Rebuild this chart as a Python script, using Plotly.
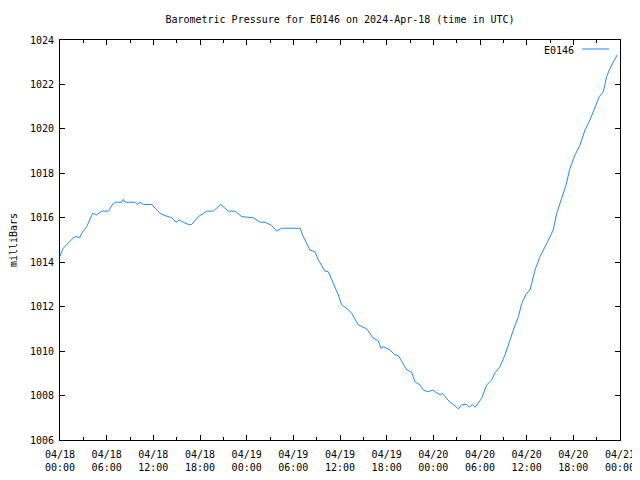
import plotly.graph_objects as go

times = [
    "2024-04-18 00:00", "2024-04-18 00:25", "2024-04-18 01:30", "2024-04-18 01:56", "2024-04-18 02:34",
    "2024-04-18 02:47", "2024-04-18 03:26", "2024-04-18 04:12", "2024-04-18 04:43", "2024-04-18 05:22",
    "2024-04-18 06:13", "2024-04-18 06:51", "2024-04-18 07:17", "2024-04-18 07:56", "2024-04-18 08:08",
    "2024-04-18 08:22", "2024-04-18 09:38", "2024-04-18 09:56", "2024-04-18 10:17", "2024-04-18 10:43",
    "2024-04-18 11:47", "2024-04-18 12:52", "2024-04-18 13:30", "2024-04-18 14:22", "2024-04-18 14:55",
    "2024-04-18 15:20", "2024-04-18 15:51", "2024-04-18 16:30", "2024-04-18 16:56", "2024-04-18 17:47",
    "2024-04-18 18:52", "2024-04-18 19:43", "2024-04-18 20:40", "2024-04-18 21:38", "2024-04-18 22:30",
    "2024-04-18 23:22", "2024-04-19 00:51", "2024-04-19 01:43", "2024-04-19 02:22", "2024-04-19 03:13",
    "2024-04-19 03:52", "2024-04-19 04:30", "2024-04-19 06:52", "2024-04-19 07:17", "2024-04-19 08:08",
    "2024-04-19 08:47", "2024-04-19 09:13", "2024-04-19 10:04", "2024-04-19 10:30", "2024-04-19 11:22",
    "2024-04-19 11:47", "2024-04-19 12:13", "2024-04-19 12:52", "2024-04-19 13:30", "2024-04-19 14:21",
    "2024-04-19 15:26", "2024-04-19 16:17", "2024-04-19 16:55", "2024-04-19 17:16", "2024-04-19 17:34",
    "2024-04-19 18:26", "2024-04-19 19:04", "2024-04-19 19:30", "2024-04-19 20:35", "2024-04-19 21:13",
    "2024-04-19 21:38", "2024-04-19 22:17", "2024-04-19 22:43", "2024-04-19 23:21", "2024-04-19 23:55",
    "2024-04-20 00:26", "2024-04-20 00:52", "2024-04-20 01:09", "2024-04-20 01:43", "2024-04-20 02:08",
    "2024-04-20 02:34", "2024-04-20 03:13", "2024-04-20 03:39", "2024-04-20 04:17", "2024-04-20 04:37",
    "2024-04-20 05:02", "2024-04-20 05:24", "2024-04-20 05:55", "2024-04-20 06:13", "2024-04-20 06:52",
    "2024-04-20 07:30", "2024-04-20 07:56", "2024-04-20 08:34", "2024-04-20 09:13", "2024-04-20 09:38",
    "2024-04-20 10:17", "2024-04-20 10:56", "2024-04-20 11:22", "2024-04-20 11:55", "2024-04-20 12:26",
    "2024-04-20 13:04", "2024-04-20 13:43", "2024-04-20 14:35", "2024-04-20 15:25", "2024-04-20 15:52",
    "2024-04-20 16:30", "2024-04-20 17:04", "2024-04-20 17:34", "2024-04-20 18:13", "2024-04-20 18:52",
    "2024-04-20 19:30", "2024-04-20 20:08", "2024-04-20 20:47", "2024-04-20 21:20", "2024-04-20 21:51",
    "2024-04-20 22:17", "2024-04-20 22:43", "2024-04-20 23:08", "2024-04-20 23:39",
]

pressure = [
    1014.28, 1014.63, 1015.03, 1015.15, 1015.12,
    1015.30, 1015.60, 1016.20, 1016.13, 1016.30,
    1016.30, 1016.65, 1016.70, 1016.70, 1016.83,
    1016.70, 1016.70, 1016.60, 1016.70, 1016.60,
    1016.60, 1016.20, 1016.10, 1016.00, 1015.80,
    1015.90, 1015.80, 1015.70, 1015.70, 1016.05,
    1016.30, 1016.30, 1016.60, 1016.30, 1016.30,
    1016.05, 1016.00, 1015.80, 1015.80, 1015.65,
    1015.40, 1015.53, 1015.53, 1015.15, 1014.55,
    1014.47, 1014.10, 1013.60, 1013.57, 1012.90,
    1012.53, 1012.08, 1011.93, 1011.70, 1011.18,
    1011.00, 1010.58, 1010.47, 1010.13, 1010.20,
    1010.05, 1009.83, 1009.80, 1009.15, 1009.05,
    1008.62, 1008.48, 1008.25, 1008.17, 1008.25,
    1008.14, 1008.03, 1008.10, 1007.88, 1007.70,
    1007.60, 1007.40, 1007.58, 1007.60, 1007.48,
    1007.60, 1007.48, 1007.75, 1007.88, 1008.48,
    1008.70, 1009.03, 1009.30, 1009.83, 1010.28,
    1010.95, 1011.55, 1012.15, 1012.56, 1012.75,
    1013.65, 1014.25, 1014.85, 1015.45, 1016.20,
    1016.88, 1017.48, 1018.23, 1018.83, 1019.28,
    1019.95, 1020.40, 1020.93, 1021.45, 1021.67,
    1022.35, 1022.73, 1023.03, 1023.33,
]

series_name = "E0146"
title_text = "Barometric Pressure for E0146 on 2024-Apr-18 (time in UTC)"
y_label = "milliBars"
line_color = "#1e88ff"
font_family = "DejaVu Sans Mono"

# page body adds ~8px offset; size the figure so the page does not overflow
# the 640x480 window and the plot area sits at 60..620 x 40..440 on screen
OFF = 8
FIG_W = 640 - OFF
FIG_H = 480 - 2 * OFF

fig = go.Figure()
fig.add_trace(go.Scatter(
    x=times, y=pressure, mode="lines", name=series_name,
    line=dict(color=line_color, width=1), showlegend=False,
))

fig.update_layout(
    width=FIG_W, height=FIG_H,
    margin=dict(l=60 - OFF, r=FIG_W - (620 - OFF), t=40 - OFF, b=FIG_H - (440 - OFF), autoexpand=False),
    paper_bgcolor="white", plot_bgcolor="white",
    font=dict(family=font_family, size=10, color="black"),
    title=dict(text=title_text, xref="paper", x=0.5, xanchor="center",
               y=1 - (19 - OFF) / FIG_H, yanchor="middle",
               font=dict(family=font_family, size=10, color="black")),
)

fig.update_xaxes(
    type="date",
    range=["2024-04-18 00:00", "2024-04-21 00:00"],
    tick0="2024-04-18 00:00", dtick=6 * 3600 * 1000,
    tickformat="%m/%d<br>%H:%M",
    ticks="inside", ticklen=5, tickcolor="black", tickwidth=1,
    minor=dict(dtick=3 * 3600 * 1000, ticks="inside", ticklen=3, tickcolor="black", showgrid=False),
    showline=True, linecolor="black", linewidth=1, mirror="allticks",
    showgrid=False, zeroline=False, automargin=False,
    ticklabelstandoff=5, ticklabeloverflow="allow",
    tickfont=dict(family=font_family, size=10, color="black"),
)
fig.update_yaxes(
    range=[1006, 1024], dtick=2, tick0=1006,
    ticks="inside", ticklen=5, tickcolor="black", tickwidth=1,
    showline=True, linecolor="black", linewidth=1, mirror="allticks",
    showgrid=False, zeroline=False, automargin=False,
    ticklabelstandoff=3, ticklabeloverflow="allow",
    title=dict(text=y_label, standoff=11, font=dict(family=font_family, size=10, color="black")),
    tickfont=dict(family=font_family, size=10, color="black"),
)

# legend drawn gnuplot-style: text then sample line, top-right inside plot
fig.add_annotation(
    xref="paper", yref="paper", x=(576 - 60) / 560, y=(440 - 50) / 400,
    text=series_name, showarrow=False, xanchor="right", yanchor="middle",
    font=dict(family=font_family, size=10, color="black"),
)
fig.add_shape(
    type="line", xref="paper", yref="paper",
    x0=(582 - 60) / 560, x1=(609 - 60) / 560,
    y0=(440 - 49) / 400, y1=(440 - 49) / 400,
    line=dict(color=line_color, width=1),
)

fig.write_html("out.html")
